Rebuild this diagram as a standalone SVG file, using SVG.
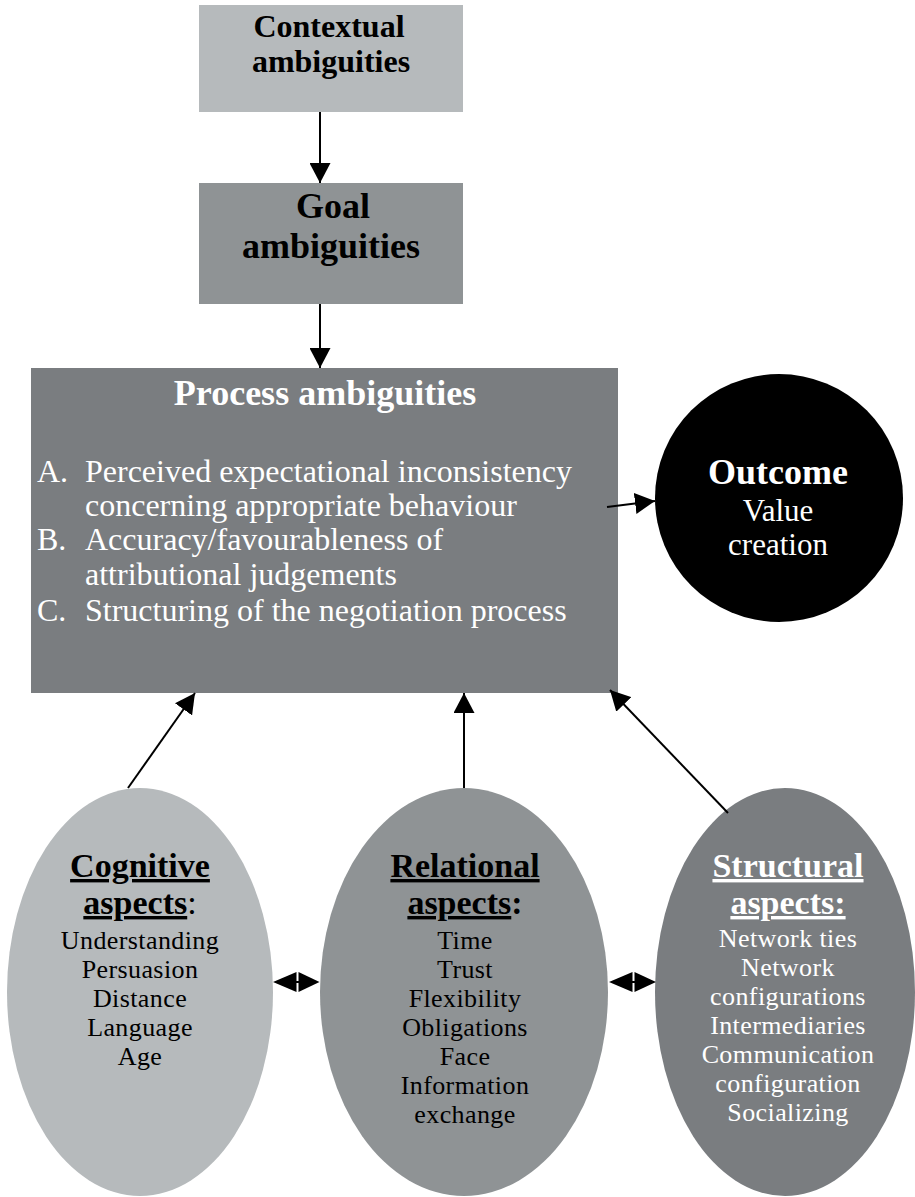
<svg xmlns="http://www.w3.org/2000/svg" width="915" height="1197" viewBox="0 0 915 1197">
  <style>
    .light { fill: #b6babc; }
    .mid { fill: #8f9395; }
    .dark { fill: #7a7d80; }
    .t { font-family: "Liberation Serif", "Times New Roman", serif; text-anchor: middle; }
    .b { font-weight: bold; }
    .blk { fill: #000; }
    .wht { fill: #fff; }
    .u { text-decoration: underline; }
    .list { font-family: "Liberation Serif", "Times New Roman", serif; font-size: 32px; fill: #fff; }
    .item { font-size: 26px; letter-spacing: 0.4px; }
    .head { font-size: 34px; font-weight: bold; }
    .conn { stroke: #000; stroke-width: 2; fill: none; marker-end: url(#arrow); }
  </style>
  <defs>
    <marker id="arrow" markerUnits="userSpaceOnUse" markerWidth="20" markerHeight="21" refX="20" refY="10.5" orient="auto">
      <path d="M0,0 L20,10.5 L0,21 Z" fill="#000"/>
    </marker>
  </defs>

  <rect width="915" height="1197" fill="#fff"/>

  <!-- top: contextual ambiguities -->
  <g id="contextual">
    <rect class="light" x="199" y="5" width="264" height="107"/>
    <text class="t b blk" font-size="32" x="329" y="37">Contextual</text>
    <text class="t b blk" font-size="32" x="331" y="72">ambiguities</text>
  </g>

  <!-- goal ambiguities -->
  <g id="goal">
    <rect class="mid" x="199" y="183" width="264" height="121"/>
    <text class="t b blk" font-size="36" x="333" y="218">Goal</text>
    <text class="t b blk" font-size="36" x="331" y="258">ambiguities</text>
  </g>

  <!-- process ambiguities -->
  <g id="process">
    <rect class="dark" x="31" y="368" width="587" height="325"/>
    <text class="t b wht" font-size="36" x="325" y="405">Process ambiguities</text>
    <text class="list" x="37" y="482">A.</text>
    <text class="list" x="85" y="482">Perceived expectational inconsistency</text>
    <text class="list" x="85" y="516">concerning appropriate behaviour</text>
    <text class="list" x="37" y="550">B.</text>
    <text class="list" x="85" y="550">Accuracy/favourableness of</text>
    <text class="list" x="85" y="585">attributional judgements</text>
    <text class="list" x="37" y="621">C.</text>
    <text class="list" x="85" y="621">Structuring of the negotiation process</text>
  </g>

  <!-- outcome -->
  <g id="outcome">
    <circle cx="779" cy="498" r="124" fill="#000"/>
    <text class="t b wht" font-size="36" x="778" y="484">Outcome</text>
    <text class="t wht" font-size="31" x="778" y="521">Value</text>
    <text class="t wht" font-size="31" x="778" y="555">creation</text>
  </g>

  <!-- cognitive aspects -->
  <g id="cognitive">
    <ellipse class="light" cx="140" cy="992" rx="133" ry="204"/>
    <text class="t blk head" x="140" y="877"><tspan class="u">Cognitive</tspan></text>
    <text class="t blk head" x="140" y="914"><tspan class="u">aspects</tspan><tspan font-weight="normal">:</tspan></text>
    <text class="t blk item" x="140" y="949">Understanding</text>
    <text class="t blk item" x="140" y="978">Persuasion</text>
    <text class="t blk item" x="140" y="1007">Distance</text>
    <text class="t blk item" x="140" y="1036">Language</text>
    <text class="t blk item" x="140" y="1065">Age</text>
  </g>

  <!-- relational aspects -->
  <g id="relational">
    <ellipse class="mid" cx="464" cy="992" rx="144" ry="204"/>
    <text class="t blk head" x="465" y="877"><tspan class="u">Relational</tspan></text>
    <text class="t blk head" x="465" y="914"><tspan class="u">aspects</tspan>:</text>
    <text class="t blk item" x="465" y="949">Time</text>
    <text class="t blk item" x="465" y="978">Trust</text>
    <text class="t blk item" x="465" y="1007">Flexibility</text>
    <text class="t blk item" x="465" y="1036">Obligations</text>
    <text class="t blk item" x="465" y="1065">Face</text>
    <text class="t blk item" x="465" y="1094">Information</text>
    <text class="t blk item" x="465" y="1123">exchange</text>
  </g>

  <!-- structural aspects -->
  <g id="structural">
    <ellipse class="dark" cx="785" cy="992" rx="130" ry="204"/>
    <text class="t wht head" font-size="33" x="788" y="877"><tspan class="u">Structural</tspan></text>
    <text class="t wht head" font-size="33" x="788" y="914"><tspan class="u">aspects:</tspan></text>
    <text class="t wht item" x="788" y="947">Network ties</text>
    <text class="t wht item" x="788" y="976">Network</text>
    <text class="t wht item" x="788" y="1005">configurations</text>
    <text class="t wht item" x="788" y="1034">Intermediaries</text>
    <text class="t wht item" x="788" y="1063">Communication</text>
    <text class="t wht item" x="788" y="1092">configuration</text>
    <text class="t wht item" x="788" y="1121">Socializing</text>
  </g>

  <!-- connectors -->
  <g id="connectors">
    <line class="conn" x1="320" y1="112" x2="320" y2="183"/>
    <line class="conn" x1="320" y1="304" x2="320" y2="368"/>
    <line class="conn" x1="607" y1="507" x2="655" y2="501"/>
    <line class="conn" x1="128" y1="788" x2="195" y2="693"/>
    <line class="conn" x1="464" y1="788" x2="464" y2="693"/>
    <line class="conn" x1="728" y1="813" x2="610" y2="690"/>
    <!-- two-way links between the aspect ellipses -->
    <g fill="#000">
      <polygon points="273,982 296.5,972 296.5,992"/>
      <polygon points="319.5,982 298.5,972 298.5,992"/>
      <line x1="295" y1="982" x2="300" y2="982" stroke="#000" stroke-width="2"/>
      <polygon points="609,982 632.5,972 632.5,992"/>
      <polygon points="656,982 634.5,972 634.5,992"/>
      <line x1="631" y1="982" x2="636" y2="982" stroke="#000" stroke-width="2"/>
    </g>
  </g>
</svg>
